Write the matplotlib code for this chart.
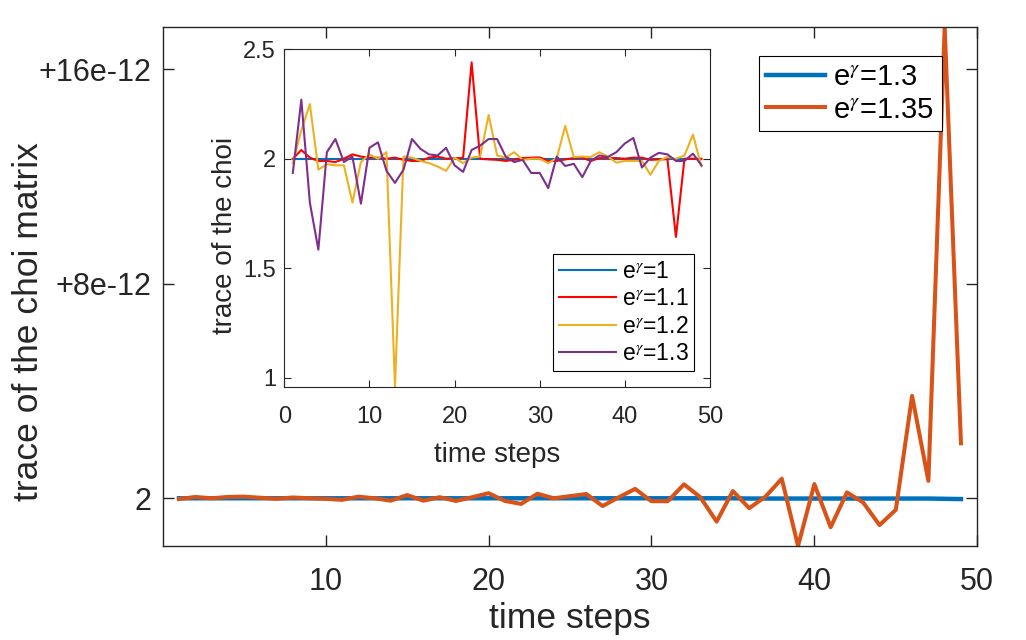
import numpy as np
import matplotlib
matplotlib.use("Agg")
from matplotlib import pyplot as plt

plt.rcParams['font.family'] = ['Liberation Sans', 'DejaVu Sans']
plt.rcParams['mathtext.fontset'] = 'stix'

# main plot: deviation of the trace from 2, in units of 1e-12
steps = np.arange(1, 50)
dev_13 = [0.0, 0.0, 0.0, 0.0, 0.0, 0.0, 0.0, 0.0, 0.0, 0.0,
          0.0, 0.0, 0.0, 0.0, 0.0, 0.0, 0.0, 0.0, 0.0, 0.0,
          0.0, 0.0, 0.0, 0.0, 0.0, 0.0, 0.0, 0.0, 0.0, 0.0,
          0.0, 0.0, 0.0, 0.0, 0.0, -0.01, -0.01, -0.01, -0.01, -0.01,
          -0.01, -0.01, -0.01, -0.01, -0.01, -0.01, -0.01, -0.02, -0.03]
dev_135 = [-0.03, 0.05, 0.0, 0.05, 0.06, 0.02, -0.02, 0.03, 0.0, -0.02,
           -0.06, 0.06, 0.0, -0.09, 0.12, -0.09, 0.04, -0.1, 0.04, 0.19,
           -0.1, -0.21, 0.17, 0.0, 0.08, 0.16, -0.29, 0.04, 0.35, -0.11,
           -0.11, 0.52, 0.04, -0.87, 0.27, -0.37, 0.06, 0.73, -1.78, 0.53,
           -1.08, 0.22, -0.16, -1.0, -0.43, 3.82, 0.65, 17.57, 2.05]
main_yticks = [0, 8, 16]
main_yticklabels = ['2', '+8e-12', '+16e-12']

# inset: trace of the choi for smaller gamma
tr_1 = [2.0] * 49
tr_11 = [2.0, 2.04, 2.005, 1.99, 1.99, 1.985, 2.0, 2.02, 2.01, 2.005,
         2.005, 2.0, 2.005, 1.995, 1.99, 1.99, 2.005, 2.01, 2.0, 2.003,
         2.003, 2.44, 2.0, 1.997, 1.995, 1.99, 1.995, 2.003, 2.005, 2.006,
         1.99, 1.99, 1.997, 2.003, 2.005, 1.99, 2.003, 2.003, 2.003, 2.0,
         2.005, 2.005, 1.995, 1.997, 1.998, 1.643, 2.0, 2.0, 2.0]
tr_12 = [1.98, 2.13, 2.25, 1.95, 1.975, 1.97, 1.97, 1.80, 1.985, 2.02,
         2.0, 2.03, 0.96, 2.01, 2.005, 1.99, 1.98, 1.965, 1.945, 2.005,
         1.98, 2.005, 2.01, 2.2, 2.015, 2.005, 2.03, 1.995, 2.0, 2.0,
         1.98, 2.003, 2.15, 2.008, 2.01, 2.008, 2.03, 2.01, 1.982, 1.99,
         1.99, 1.99, 1.927, 1.99, 2.008, 2.0, 2.015, 2.11, 1.965]
tr_13 = [1.935, 2.27, 1.80, 1.585, 2.03, 2.09, 1.985, 2.01, 1.795, 2.05,
         2.075, 1.945, 1.89, 1.95, 2.09, 2.045, 2.02, 2.015, 2.05, 1.97,
         1.94, 2.04, 2.06, 2.09, 2.09, 2.01, 1.985, 1.995, 1.935, 1.935,
         1.866, 2.01, 1.967, 1.977, 1.916, 1.99, 2.015, 2.008, 2.03, 2.07,
         2.095, 1.96, 2.005, 2.027, 2.02, 1.99, 1.99, 2.023, 1.97]

c_blue = (0.0, 0.447, 0.741)
c_orange = (0.85, 0.325, 0.098)
c_red = (1.0, 0.0, 0.0)
c_yellow = (0.929, 0.694, 0.125)
c_purple = (0.494, 0.184, 0.556)
c_axis = (0.15, 0.15, 0.15)


def style_axes(ax, length, lw):
    ax.tick_params(direction='in', top=True, right=True, length=length,
                   width=lw, colors=c_axis)
    for s in ax.spines.values():
        s.set_color(c_axis)
        s.set_linewidth(lw)


fig = plt.figure(figsize=(10.26, 6.4), dpi=100)

ax = fig.add_axes([0.1586, 0.1469, 0.7939, 0.8104])
ax.plot(steps, dev_13, color=c_blue, lw=3.2, label=r'e$^{\gamma}$=1.3')
ax.plot(steps, dev_135, color=c_orange, lw=2.9, label=r'e$^{\gamma}$=1.35')
ax.set_xlim(0, 50)
ax.set_ylim(min(dev_135), max(dev_135))
ax.set_xticks([10, 20, 30, 40, 50])
ax.set_yticks(main_yticks)
ax.set_yticklabels(main_yticklabels)
ax.tick_params(labelsize=22, pad=8)
ax.tick_params(axis='x', pad=15)
style_axes(ax, 8, 1.0)
ax.set_xlabel('time steps', fontsize=25.5, color=c_axis, labelpad=4)
ax.set_ylabel('trace of the choi matrix', fontsize=25.5, color=c_axis)
ax.yaxis.set_label_coords(-0.1445, 0.432)
leg = ax.legend(loc='upper left', bbox_to_anchor=(759 / 1026, 1 - 56 / 640),
                bbox_transform=fig.transFigure, borderaxespad=0, fontsize=21,
                handlelength=2.0, handletextpad=0.3, labelspacing=0.15,
                borderpad=0.25, fancybox=False, framealpha=1, edgecolor='black')
leg.get_frame().set_linewidth(0.8)

ins = fig.add_axes([0.2771, 0.3958, 0.4149, 0.5272])
ins.plot(steps, tr_1, color=c_blue, lw=1.5, label=r'e$^{\gamma}$=1')
ins.plot(steps, tr_11, color=c_red, lw=1.5, label=r'e$^{\gamma}$=1.1')
ins.plot(steps, tr_12, color=c_yellow, lw=1.5, label=r'e$^{\gamma}$=1.2')
ins.plot(steps, tr_13, color=c_purple, lw=1.5, label=r'e$^{\gamma}$=1.3')
ins.set_xlim(0, 50)
ins.set_ylim(0.959, 2.5)
ins.set_xticks([0, 10, 20, 30, 40, 50])
ins.set_yticks([1, 1.5, 2, 2.5])
ins.set_yticklabels(['1', '1.5', '2', '2.5'])
ins.tick_params(labelsize=17, pad=6)
ins.tick_params(axis='x', pad=14)
style_axes(ins, 5, 0.8)
ins.set_xlabel('time steps', fontsize=20, color=c_axis, labelpad=10)
ins.set_ylabel('trace of the choi', fontsize=20, color=c_axis)
ins.yaxis.set_label_coords(-0.109, 0.447)
leg2 = ins.legend(loc='upper left', bbox_to_anchor=(553 / 1026, 1 - 254 / 640),
                  bbox_transform=fig.transFigure, borderaxespad=0, fontsize=16.5,
                  handlelength=2.5, handletextpad=0.25, labelspacing=0.2,
                  borderpad=0.25, fancybox=False, framealpha=1, edgecolor='black')
leg2.get_frame().set_linewidth(0.8)

fig.savefig('out.png', dpi=100)
